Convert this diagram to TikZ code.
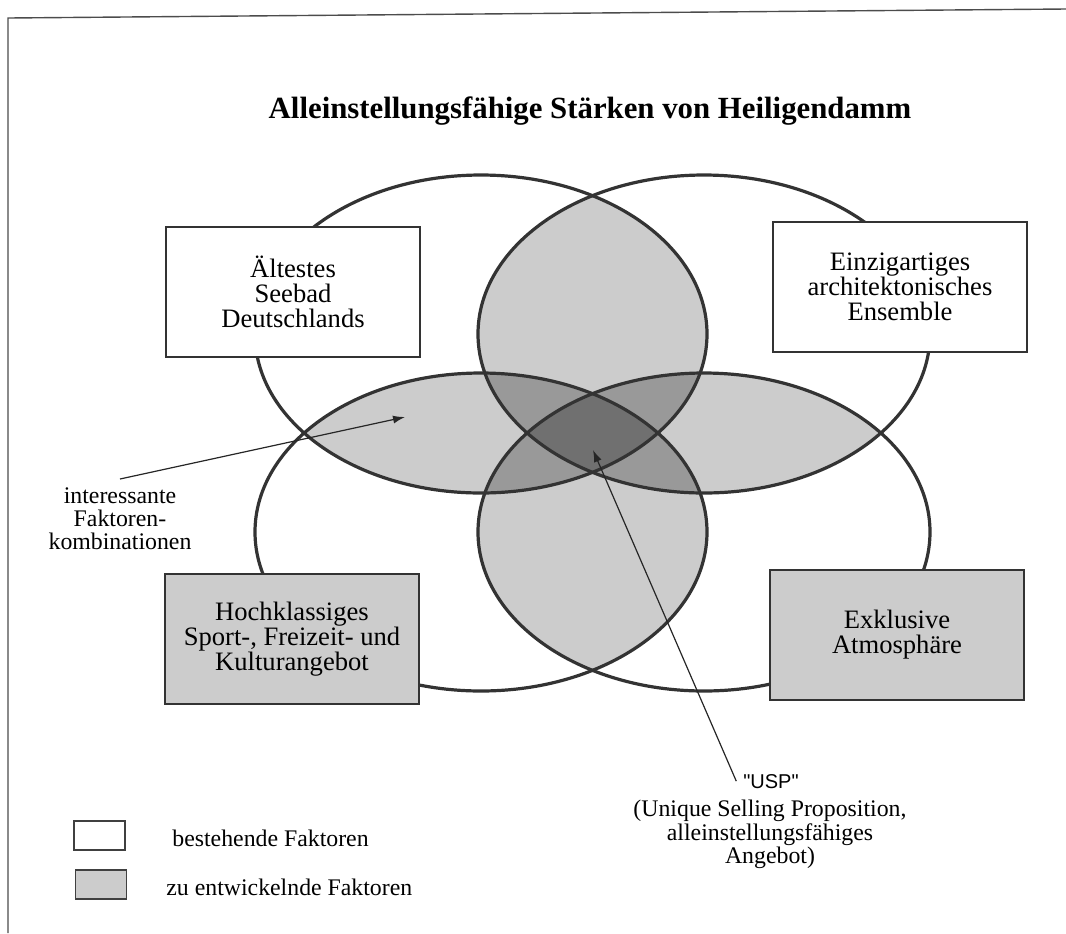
\documentclass[tikz,border=0pt]{standalone}
\usepackage{fontspec}
\setmainfont{Liberation Serif}
\newfontfamily\uspfont{Liberation Sans}
\usepackage{tikz}
\usetikzlibrary{arrows.meta}
\definecolor{pair}{gray}{0.80}
\definecolor{triple}{gray}{0.60}
\definecolor{core}{gray}{0.44}
\newcommand{\ovTL}{(481,334) ellipse [x radius=113pt, y radius=79.5pt]}
\newcommand{\ovTR}{(704,334) ellipse [x radius=113pt, y radius=79.5pt]}
\newcommand{\ovBL}{(481,532) ellipse [x radius=113pt, y radius=79.5pt]}
\newcommand{\ovBR}{(704,532) ellipse [x radius=113pt, y radius=79.5pt]}

\begin{document}
\begin{tikzpicture}[
    x=0.5pt, y=-0.5pt,
    >=Latex,
    ring/.style={draw=black!80, line width=1.6pt},
    factor/.style={draw=black!80, line width=0.7pt, align=center, minimum width=127pt, minimum height=65pt, inner sep=3pt, font=\fontsize{13.3pt}{12.5pt}\selectfont},
    existing/.style={factor, fill=white},
    todo/.style={factor, fill=pair},
    note/.style={font=\fontsize{11.9pt}{11.6pt}\selectfont, align=center, inner sep=4pt},
    keytext/.style={font=\fontsize{11.9pt}{11.6pt}\selectfont, inner sep=0pt},
    keybox/.style={draw=black!75, line width=0.6pt, minimum width=25.5pt, minimum height=14.5pt, inner sep=0pt},
    lead/.style={draw=black!85, line width=0.6pt}
]
\useasboundingbox (0,0) rectangle (1066,933);
\draw[black!70, line width=0.7pt] (1066,9) -- (8,18) -- (8,933);

\node[font=\bfseries\fontsize{15.4pt}{18pt}\selectfont, anchor=base] (title) at (590,118) {Alleinstellungsfähige Stärken von Heiligendamm};

% overlaps of two, three and four ovals
\begin{scope}
  \clip \ovTL; \fill[pair] \ovTR; \fill[pair] \ovBL; \fill[pair] \ovBR;
\end{scope}
\begin{scope}
  \clip \ovBR; \fill[pair] \ovTR; \fill[pair] \ovBL;
\end{scope}
\begin{scope}
  \clip \ovTR; \fill[pair] \ovBL;
\end{scope}
\begin{scope}
  \clip \ovTL; \clip \ovTR; \fill[triple] \ovBL; \fill[triple] \ovBR;
\end{scope}
\begin{scope}
  \clip \ovBL; \clip \ovBR; \fill[triple] \ovTL; \fill[triple] \ovTR;
\end{scope}
\begin{scope}
  \clip \ovTL; \clip \ovTR; \clip \ovBL; \fill[core] \ovBR;
\end{scope}
\foreach \cx/\cy in {481/334, 704/334, 481/532, 704/532}
  \draw[ring] (\cx,\cy) ellipse [x radius=113pt, y radius=79.5pt];

% factor boxes
\node[existing] (seebad) at (293,292) {Ältestes\\Seebad\\Deutschlands};
\node[existing] (ensemble) at (900,287) {Einzigartiges\\architektonisches\\Ensemble};
\node[todo] (angebot) at (292,639) {Hochklassiges\\Sport-, Freizeit- und\\Kulturangebot};
\node[todo] (flair) at (897,635) {Exklusive\\Atmosphäre};

% notes
\node[note, anchor=north] (combo) at (120,479) {interessante\\Faktoren-\\kombinationen};
\coordinate (lensL) at (405,417);
\draw[lead, -{Latex[length=6pt,width=4pt]}] (combo.north) -- (lensL);

\node[font=\uspfont\fontsize{10pt}{12pt}\selectfont, anchor=base] (usp) at (771,788) {"USP"};
\node[note, anchor=north] (uspnote) at (770,792) {(Unique Selling Proposition,\\alleinstellungsfähiges\\Angebot)};
\coordinate (core) at (593,450);
\draw[lead, -{Latex[length=6pt,width=4pt]}] (usp.west) -- (core);

% legend
\node[keybox, fill=white] (keyold) at (99.5,835.5) {};
\node[keybox, fill=pair] (keynew) at (101,884.5) {};
\node[keytext, anchor=base west] (keyoldtxt) at (172,846) {bestehende Faktoren};
\node[keytext, anchor=base west] (keynewtxt) at (166,895) {zu entwickelnde Faktoren};
\end{tikzpicture}
\end{document}
